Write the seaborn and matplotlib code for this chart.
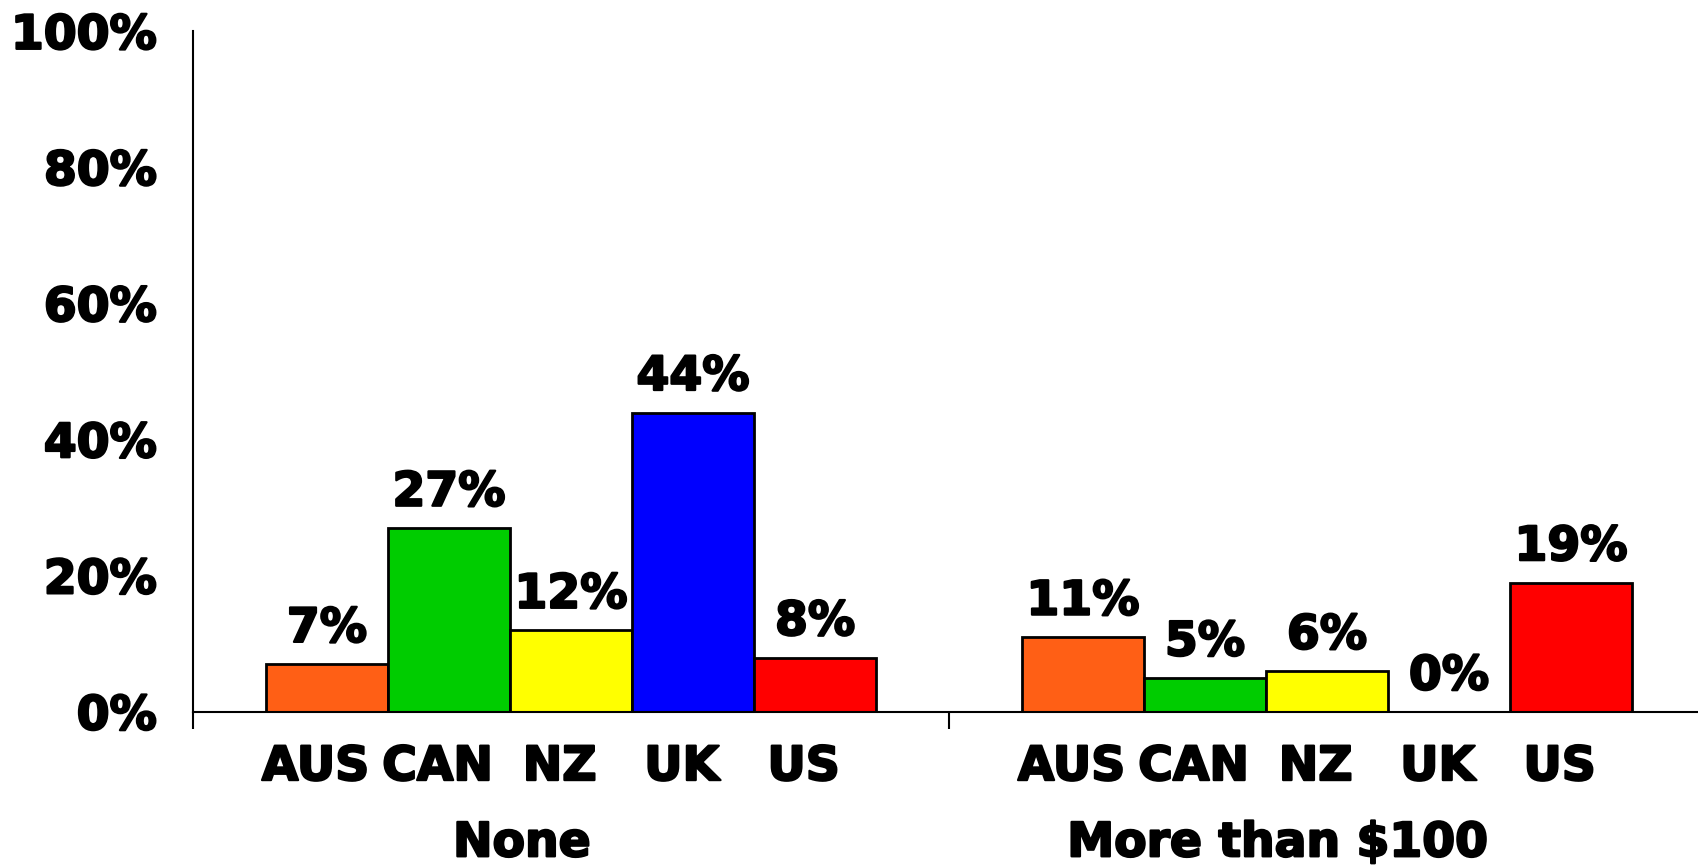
import matplotlib

matplotlib.use("Agg")
import matplotlib.patheffects as pe
import matplotlib.pyplot as plt
import pandas as pd
import seaborn as sns
from matplotlib.ticker import FuncFormatter

groups = ["None", "More than $100"]
countries = ["AUS", "CAN", "NZ", "UK", "US"]
none_values = [7, 27, 12, 44, 8]
over_100_values = [11, 5, 6, 0, 19]
colors = ["#FF5F15", "#00CC00", "#FFFF00", "#0000FF", "#FF0000"]

rows = []
for group, values in zip(groups, [none_values, over_100_values]):
    for country, value in zip(countries, values):
        rows.append({"group": group, "country": country, "value": value / 100})
df = pd.DataFrame(rows)

sns.set_style("white")
plt.rcParams["font.family"] = ["DejaVu Sans"]
plt.rcParams["font.weight"] = "bold"
plt.rcParams["text.color"] = "black"
plt.rcParams["xtick.color"] = "black"
plt.rcParams["ytick.color"] = "black"
FS = 34
heavy = [pe.withStroke(linewidth=1.6, foreground="black")]

fig = plt.figure(figsize=(16.98, 8.66), dpi=100)
ax = fig.add_axes([0.1137, 0.1778, 0.886, 0.786])

sns.barplot(
    data=df,
    x="group",
    y="value",
    hue="country",
    hue_order=countries,
    palette=colors,
    saturation=1,
    width=0.807,
    edgecolor="black",
    linewidth=2,
    legend=False,
    ax=ax,
)

# value labels above bars, country names below them
for container, country in zip(ax.containers, countries):
    labels = [f"{round(b.get_height() * 100)}%" for b in container]
    texts = ax.bar_label(container, labels=labels, padding=9, fontsize=FS,
                         fontweight="bold", color="black")
    for t in texts:
        t.set_path_effects(heavy)
    for bar in container:
        cx = bar.get_x() + bar.get_width() / 2
        ax.text(cx - 0.015, -0.1, country, transform=ax.get_xaxis_transform(),
                ha="center", va="baseline", fontsize=FS, fontweight="bold",
                path_effects=heavy)

for i, group in enumerate(groups):
    ax.text(i - 0.065, -0.212, group, transform=ax.get_xaxis_transform(),
            ha="center", va="baseline", fontsize=FS, fontweight="bold",
            path_effects=heavy)

ax.set_xlim(-0.5, 1.49)
ax.set_ylim(0, 1)
ax.set_xticks([-0.5, 0.5])
ax.set_xticklabels([])
ax.set_yticks([0, 0.2, 0.4, 0.6, 0.8, 1.0])
ax.yaxis.set_major_formatter(FuncFormatter(lambda v, _: f"{v:.0%}"))
ax.tick_params(axis="y", direction="out", length=12, width=1.5, pad=14,
               labelsize=FS, colors="black")
ax.tick_params(axis="x", direction="out", length=12, width=1.5, bottom=True,
               colors="black")
for lab in ax.get_yticklabels():
    lab.set_fontweight("bold")
    lab.set_path_effects(heavy)
ax.set_xlabel("")
ax.set_ylabel("")

for side in ["top", "right"]:
    ax.spines[side].set_visible(False)
for side in ["left", "bottom"]:
    ax.spines[side].set_linewidth(1.5)
    ax.spines[side].set_color("black")

fig.savefig("out.png", dpi=100)
